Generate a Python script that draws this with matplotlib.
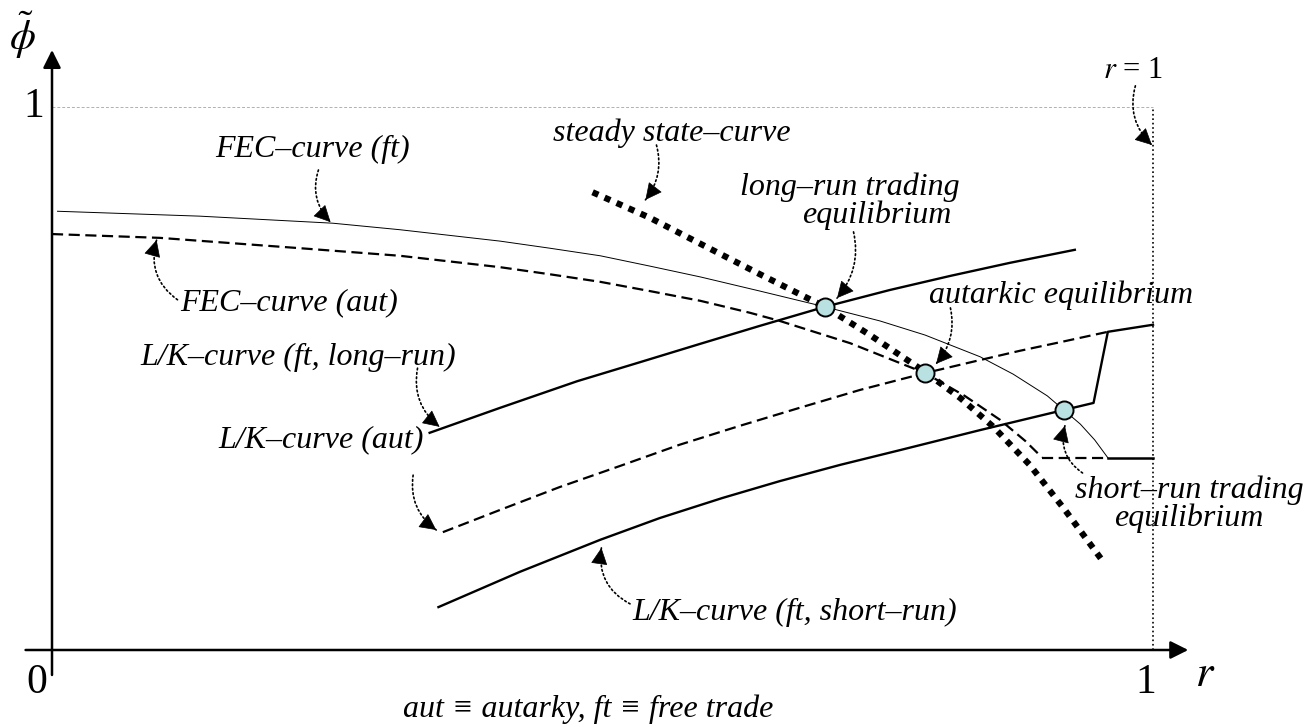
import matplotlib
matplotlib.use("Agg")
import numpy as np
import matplotlib.pyplot as plt

plt.rcParams['font.family'] = ['Liberation Serif', 'DejaVu Serif']
plt.rcParams['mathtext.fontset'] = 'stix'

# curves (r, phi~)
fec_ft_r = [0.005, 0.134, 0.255, 0.316, 0.407, 0.452, 0.498, 0.543, 0.589, 0.643, 0.702,
            0.752, 0.793, 0.843, 0.873, 0.904, 0.919, 0.934, 0.947, 0.959]
fec_ft_phi = [0.808, 0.799, 0.786, 0.774, 0.753, 0.740, 0.726, 0.707, 0.687, 0.661, 0.632,
              0.606, 0.580, 0.540, 0.508, 0.468, 0.442, 0.416, 0.387, 0.354]

fec_aut_r = [0.0, 0.098, 0.225, 0.316, 0.407, 0.452, 0.498, 0.543, 0.589, 0.634, 0.661,
             0.725, 0.793, 0.829, 0.861, 0.884, 0.899]
fec_aut_phi = [0.766, 0.759, 0.740, 0.726, 0.705, 0.692, 0.678, 0.661, 0.643, 0.621, 0.606,
               0.565, 0.510, 0.468, 0.424, 0.385, 0.355]

steady_r = [0.491, 0.543, 0.589, 0.643, 0.702, 0.743, 0.793, 0.825, 0.855, 0.888, 0.920, 0.955]
steady_phi = [0.843, 0.796, 0.748, 0.692, 0.632, 0.580, 0.512, 0.464, 0.411, 0.341, 0.258, 0.162]

lk_long_r = [0.343, 0.407, 0.477, 0.534, 0.589, 0.643, 0.702, 0.761, 0.816, 0.870, 0.929]
lk_long_phi = [0.400, 0.446, 0.495, 0.530, 0.564, 0.597, 0.632, 0.663, 0.689, 0.713, 0.737]

lk_aut_r = [0.355, 0.407, 0.461, 0.516, 0.570, 0.625, 0.679, 0.734, 0.793, 0.843, 0.879, 0.916, 0.959]
lk_aut_phi = [0.217, 0.258, 0.300, 0.339, 0.378, 0.413, 0.446, 0.479, 0.510, 0.534, 0.551, 0.567, 0.586]

lk_short_r = [0.351, 0.425, 0.498, 0.552, 0.609, 0.661, 0.716, 0.770, 0.843, 0.919, 0.946, 0.959, 1.0]
lk_short_phi = [0.079, 0.144, 0.203, 0.243, 0.280, 0.311, 0.341, 0.368, 0.405, 0.442, 0.455, 0.586, 0.599]

# flat part at the bottom of both FEC curves
flat_phi = 0.354
flat_aut_r = [0.899, 0.959]
flat_ft_r = [0.959, 1.0]

# equilibria: long-run, autarkic, short-run
eq_r = [0.702, 0.793, 0.919]
eq_phi = [0.632, 0.510, 0.442]

fig = plt.figure(figsize=(13.08, 7.27), dpi=100)
ax = fig.add_axes([0, 0, 1, 1])
ax.set_xlim(-52 / 1101, 1256 / 1101)
ax.set_ylim(-77 / 543, 650 / 543)
ax.axis('off')

dash = (0, (5, 2.5))
head_style = '-|>,head_length=0.9,head_width=0.45'

# frame lines at r = 1 and phi = 1
ax.plot([0, 1], [1, 1], color='#b0b0b0', lw=0.7, ls=(0, (3, 2)))
ax.plot([1, 1], [0, 1], color='black', lw=1.2, ls=':')

# axes with arrows
ax.annotate('', xy=(1.032, 0), xytext=(-0.024, 0),
            arrowprops=dict(arrowstyle=head_style, color='black', lw=1.8,
                            mutation_scale=12, shrinkA=0, shrinkB=0))
ax.annotate('', xy=(0, 1.105), xytext=(0, -0.046),
            arrowprops=dict(arrowstyle=head_style, color='black', lw=1.8,
                            mutation_scale=12, shrinkA=0, shrinkB=0))

ax.plot(fec_ft_r, fec_ft_phi, color='black', lw=0.7)
ax.plot(flat_ft_r, [flat_phi, flat_phi], color='black', lw=1.8)
ax.plot(fec_aut_r, fec_aut_phi, color='black', lw=1.6, ls=dash)
ax.plot(flat_aut_r, [flat_phi, flat_phi], color='black', lw=1.6, ls=dash)
ax.plot(lk_long_r, lk_long_phi, color='black', lw=1.7)
ax.plot(lk_aut_r, lk_aut_phi, color='black', lw=1.6, ls=dash)
ax.plot(lk_short_r, lk_short_phi, color='black', lw=1.7)
ax.plot(steady_r, steady_phi, color='black', lw=4.5, ls=(0, (1, 1.1)), dash_capstyle='butt')
ax.plot(eq_r, eq_phi, 'o', ms=13, mfc='#b9e1e2', mec='black', mew=1.4, zorder=5)

lab = dict(fontsize=23, style='italic', va='center')
ax.text(0.148, 0.921, 'FEC–curve (ft)', ha='left', **lab)
ax.text(0.116, 0.639, 'FEC–curve (aut)', ha='left', **lab)
ax.text(0.080, 0.538, 'L/K–curve (ft, long–run)', ha='left', **lab)
ax.text(0.151, 0.387, 'L/K–curve (aut)', ha='left', **lab)
ax.text(0.527, 0.070, 'L/K–curve (ft, short–run)', ha='left', **lab)
ax.text(0.455, 0.952, 'steady state–curve', ha='left', **lab)
ax.text(0.725, 0.853, 'long–run trading', ha='center', **lab)
ax.text(0.749, 0.801, 'equilibrium', ha='center', **lab)
ax.text(0.797, 0.654, 'autarkic equilibrium', ha='left', **lab)
ax.text(1.033, 0.295, 'short–run trading', ha='center', **lab)
ax.text(1.032, 0.243, 'equilibrium', ha='center', **lab)
ax.text(0.982, 1.068, r'$r$ = 1', ha='center', va='center', fontsize=22)
ax.text(0.487, -0.110, 'aut ≡ autarky, ft ≡ free trade', ha='center', **lab)

ax.text(-0.014, -0.061, '0', ha='center', va='center', fontsize=30)
ax.text(0.993, -0.061, '1', ha='center', va='center', fontsize=30)
ax.text(-0.017, 1.0, '1', ha='center', va='center', fontsize=30)
ax.text(1.047, -0.046, r'$r$', ha='center', va='center', fontsize=32)
ax.text(-0.027, 1.133, r'$\tilde{\phi}$', ha='center', va='center', fontsize=30)

# dotted pointer arrows: (head, tail, curvature)
pointers = [
    ((0.253, 0.788), (0.242, 0.884), 0.3),
    ((0.095, 0.755), (0.114, 0.645), -0.35),
    ((0.352, 0.411), (0.332, 0.519), 0.3),
    ((0.349, 0.221), (0.328, 0.322), 0.3),
    ((0.499, 0.188), (0.525, 0.085), -0.35),
    ((0.539, 0.829), (0.549, 0.930), -0.25),
    ((0.713, 0.648), (0.728, 0.770), -0.25),
    ((0.803, 0.527), (0.816, 0.630), -0.25),
    ((0.920, 0.413), (0.936, 0.326), -0.35),
    ((0.999, 0.930), (0.984, 1.039), 0.3),
]
to_px = ax.transData
for head, tail, rad in pointers:
    # dotted curved stem
    ax.annotate('', xy=head, xytext=tail,
                arrowprops=dict(arrowstyle='-', color='black', lw=1.2, ls=':',
                                shrinkA=0, shrinkB=0,
                                connectionstyle=f'arc3,rad={rad}'))
    # solid head, aligned with the end tangent of the arc
    h = to_px.transform(head)
    t = to_px.transform(tail)
    d = h - t
    ctrl = (h + t) / 2 + rad * np.array([d[1], -d[0]])
    u = (h - ctrl) / np.hypot(*(h - ctrl))
    back = to_px.inverted().transform(h - u * 14)
    ax.annotate('', xy=head, xytext=back,
                arrowprops=dict(arrowstyle=head_style, color='black', lw=0.5,
                                mutation_scale=12, shrinkA=0, shrinkB=0))

fig.savefig('out.png', dpi=100)
